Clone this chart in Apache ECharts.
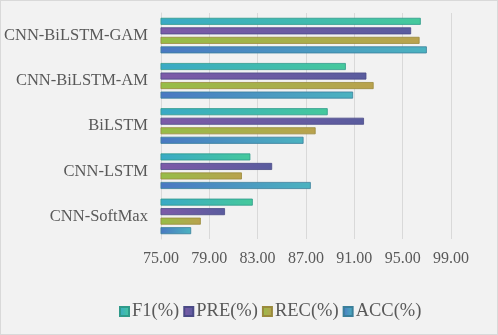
<!DOCTYPE html>
<html>
	<head>
		<meta charset="utf-8">
		<title>模型对比</title>
		<script src="https://cdn.jsdelivr.net/npm/echarts@6/dist/echarts.min.js"></script>
		<style>
			html, body { margin: 0; padding: 0; background: #f2f2f2; }
			#box { width: 496px; height: 333px; border: 1px solid #d9d9d9; }
		</style>
	</head>
	<body>
		<div id="box"></div>
		<script>
			// 类别从下到上
			var models = ['CNN-SoftMax', 'CNN-LSTM', 'BiLSTM', 'CNN-BiLSTM-AM', 'CNN-BiLSTM-GAM']
			var f1 = [82.6, 82.4, 88.8, 90.3, 96.5]
			var pre = [80.3, 84.2, 91.8, 92.0, 95.7]
			var rec = [78.3, 81.7, 87.8, 92.6, 96.4]
			var acc = [77.5, 87.4, 86.8, 90.9, 97.0]
			var seriesNames = ['F1(%)', 'PRE(%)', 'REC(%)', 'ACC(%)']
			var tickMin = 75, tickMax = 99, tickStep = 4

			var font = '"Liberation Serif", "Times New Roman", serif'
			function grad(c1, c2) {
				return new echarts.graphic.LinearGradient(0, 0, 1, 0, [
					{ offset: 0, color: c1 },
					{ offset: 1, color: c2 }
				])
			}
			var styles = [
				{ color: grad('#3aa9c6', '#45c99c'), border: '#2f9a8a' },
				{ color: grad('#7d5aa8', '#5a5c9e'), border: '#4a4a86' },
				{ color: grad('#96bd48', '#b9a24e'), border: '#9a8a3c' },
				{ color: grad('#4a78c2', '#4bb3c0'), border: '#3a7f9a' }
			]
			var dataArr = [f1, pre, rec, acc]

			var mCharts = echarts.init(document.querySelector('#box'))
			var option = {
				backgroundColor: '#f2f2f2',
				animation: false,
				grid: { left: 159, right: 46, top: 12, bottom: 95 },
				legend: {
					bottom: 8,
					left: 113,
					itemWidth: 9,
					itemHeight: 9,
					itemGap: 4,
					icon: 'rect',
					textStyle: { fontFamily: font, fontSize: 18.5, color: '#595959', padding: [0, 0, 0, -2] },
					data: seriesNames
				},
				xAxis: {
					type: 'value',
					min: tickMin,
					max: tickMax,
					interval: tickStep,
					axisLine: { show: false },
					axisTick: { show: false },
					splitLine: { lineStyle: { color: '#d9d9d9' } },
					axisLabel: {
						fontFamily: font, fontSize: 16, color: '#595959', margin: 12,
						formatter: function (v) { return v.toFixed(2) }
					}
				},
				yAxis: {
					type: 'category',
					data: models,
					axisLine: { lineStyle: { color: '#d9d9d9' } },
					axisTick: { show: false },
					axisLabel: { fontFamily: font, fontSize: 16.5, color: '#595959', margin: 13 }
				},
				series: seriesNames.map(function (name, i) {
					return {
						name: name,
						type: 'bar',
						data: dataArr[i],
						barWidth: 7,
						barGap: '36%',
						itemStyle: { color: styles[i].color, borderColor: styles[i].border, borderWidth: 0.8 }
					}
				})
			}
			mCharts.setOption(option)
		</script>
	</body>
</html>
